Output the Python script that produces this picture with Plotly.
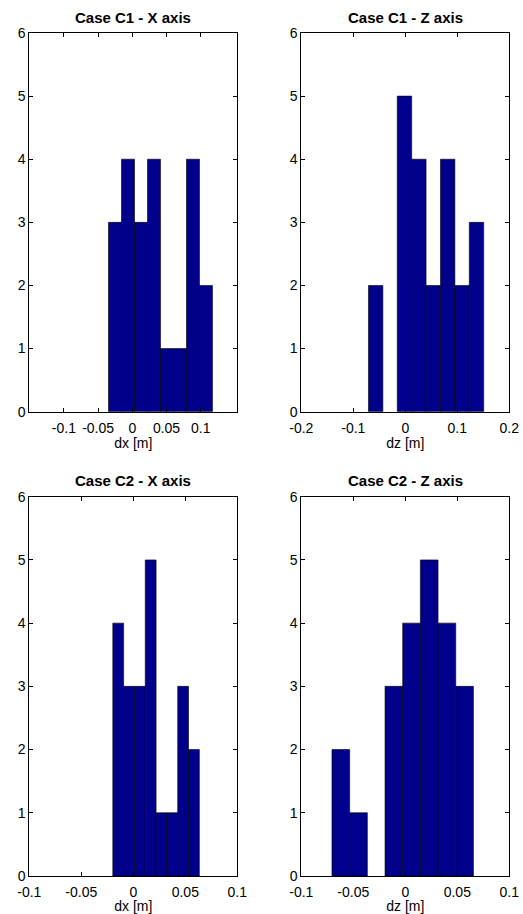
import plotly.graph_objects as go

# ---- data (bin centres and counts) ----
c1x_centers = [-0.0253, -0.0063, 0.0127, 0.0317, 0.0507, 0.0697, 0.0887, 0.1077]
c1x_counts = [3, 4, 3, 4, 1, 1, 4, 2]

c1z_centers = [-0.0570, -0.0293, -0.0016, 0.0261, 0.0538, 0.0815, 0.1092, 0.1369]
c1z_counts = [2, 0, 5, 4, 2, 4, 2, 3]

c2x_centers = [-0.0145, -0.0041, 0.0063, 0.0167, 0.0271, 0.0375, 0.0479, 0.0583]
c2x_counts = [4, 3, 3, 5, 1, 1, 3, 2]

c2z_centers = [-0.062, -0.045, -0.028, -0.011, 0.006, 0.023, 0.040, 0.057]
c2z_counts = [2, 1, 0, 3, 4, 5, 4, 3]

titles = ["Case C1 - X axis", "Case C1 - Z axis", "Case C2 - X axis", "Case C2 - Z axis"]
xlabels = ["dx [m]", "dz [m]", "dx [m]", "dz [m]"]
x_ranges = [[-0.1506, 0.1535], [-0.2, 0.2], [-0.1, 0.1], [-0.1, 0.1]]
x_ticks = [[-0.1, -0.05, 0, 0.05, 0.1], [-0.2, -0.1, 0, 0.1, 0.2],
           [-0.1, -0.05, 0, 0.05, 0.1], [-0.1, -0.05, 0, 0.05, 0.1]]
x_ticktext = [["-0.1", "-0.05", "0", "0.05", "0.1"], ["-0.2", "-0.1", "0", "0.1", "0.2"],
              ["-0.1", "-0.05", "0", "0.05", "0.1"], ["-0.1", "-0.05", "0", "0.05", "0.1"]]
y_ticks = [0, 1, 2, 3, 4, 5, 6]

series = [(c1x_centers, c1x_counts), (c1z_centers, c1z_counts),
          (c2x_centers, c2x_counts), (c2z_centers, c2z_counts)]

W, H = 523, 914
# plot areas in pixels: (left, right, top, bottom)
boxes = [(29.3, 237.3, 33.0, 411.7), (301.3, 509.3, 33.0, 411.7),
         (29.3, 237.3, 496.7, 876.0), (301.3, 509.3, 496.7, 876.0)]

BAR = "rgb(0,0,139)"
FONT = "Arial, Liberation Sans, sans-serif"
TICK_SIZE = 14
TITLE_SIZE = 15

fig = go.Figure()
layout = dict(
    template="none",
    width=W, height=H, margin=dict(l=0, r=0, t=0, b=0, pad=0, autoexpand=False),
    paper_bgcolor="white", plot_bgcolor="white", showlegend=False,
    font=dict(family=FONT, size=TICK_SIZE, color="black"),
    annotations=[],
)

for i, ((cx, cnt), box) in enumerate(zip(series, boxes)):
    n = i + 1
    xa = "x" if n == 1 else f"x{n}"
    ya = "y" if n == 1 else f"y{n}"
    width = cx[1] - cx[0]
    fig.add_trace(go.Bar(
        x=cx, y=cnt, width=[width] * len(cx),
        marker=dict(color=BAR,
                    line=dict(color="black", width=[0.6 if v > 0 else 0 for v in cnt])),
        xaxis=xa, yaxis=ya, hoverinfo="x+y",
    ))
    l, r, t, b = box
    xkey = "xaxis" if n == 1 else f"xaxis{n}"
    ykey = "yaxis" if n == 1 else f"yaxis{n}"
    layout[xkey] = dict(
        domain=[l / W, r / W], anchor=ya, range=x_ranges[i], automargin=False,
        tickvals=x_ticks[i], ticktext=x_ticktext[i],
        ticks="inside", ticklen=4, tickcolor="black", tickwidth=1,
        showline=True, linecolor="black", linewidth=1, mirror="ticks",
        showgrid=False, zeroline=False, ticklabelstandoff=3,
        tickfont=dict(family=FONT, size=TICK_SIZE, color="black"),
        title=dict(text=xlabels[i], font=dict(family=FONT, size=TICK_SIZE, color="black"), standoff=0),
    )
    layout[ykey] = dict(
        domain=[1 - b / H, 1 - t / H], anchor=xa, range=[0, 6], automargin=False,
        tickvals=y_ticks, ticks="inside", ticklen=4, tickcolor="black", tickwidth=1,
        showline=True, linecolor="black", linewidth=1, mirror="ticks",
        showgrid=False, zeroline=False,
        tickfont=dict(family=FONT, size=TICK_SIZE, color="black"),
    )
    layout["annotations"].append(dict(
        text=f"<b>{titles[i]}</b>", xref="paper", yref="paper",
        x=(l + r) / 2 / W, y=1 - (t - 16) / H, xanchor="center", yanchor="middle",
        showarrow=False, font=dict(family=FONT, size=TITLE_SIZE, color="black"),
    ))

fig.update_layout(**layout)
fig.write_html(
    "out.html",
    config={"displayModeBar": False},
    post_script="document.body.style.margin='0';document.body.style.overflow='hidden';",
)
